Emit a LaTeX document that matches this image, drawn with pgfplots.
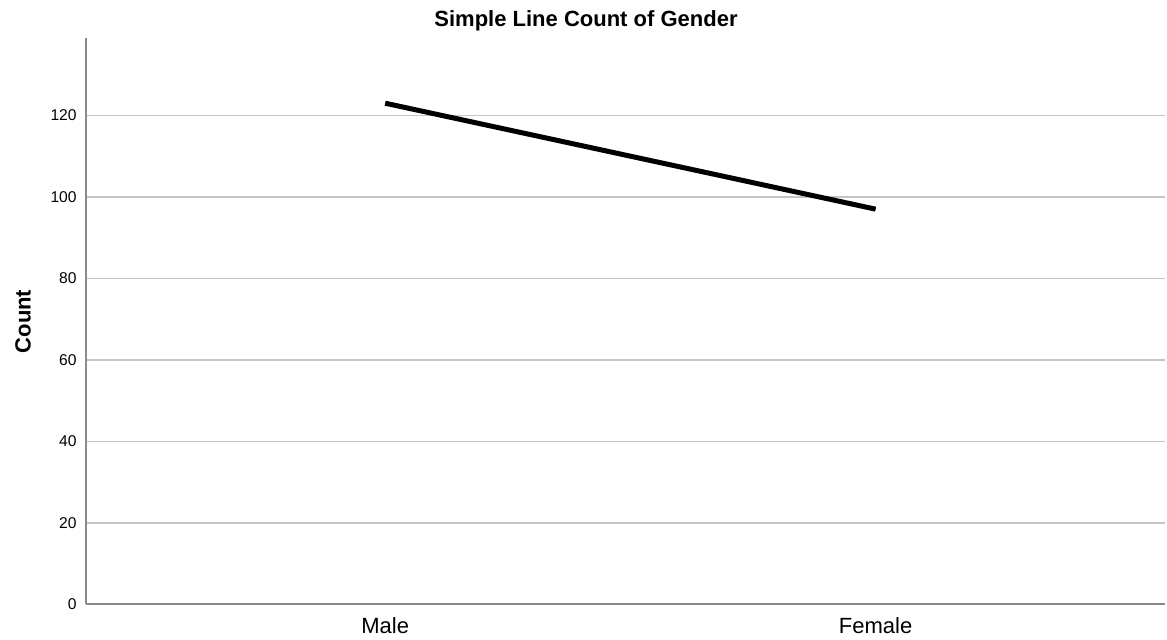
\documentclass[border=0pt]{standalone}
\usepackage{fontspec}
\setmainfont{Liberation Sans}
\usepackage{pgfplots}
\pgfplotsset{compat=1.18}
\definecolor{gridc}{HTML}{C4C4C4}
\definecolor{axc}{HTML}{8A8A8A}
\begin{document}
\begin{tikzpicture}
\useasboundingbox (-43pt,-17.75pt) rectangle (540.5pt,302.25pt);
\begin{axis}[
  at={(0,0)}, anchor=south west,
  scale only axis, width=539.5pt, height=283.25pt,
  xmin=-0.61, xmax=1.59, ymin=0, ymax=139,
  xtick={0,1}, xticklabels={Male,Female},
  ytick={0,20,40,60,80,100,120},
  axis x line*=bottom, axis y line*=left,
  ymajorgrids, grid style={color=gridc, line width=0.8pt},
  major tick length=0pt,
  axis line style={color=axc, line width=1pt},
  /pgf/number format/assume math mode=true,
  yticklabel style={font=\fontsize{7.8}{9}\selectfont, inner sep=0pt, anchor=east, xshift=-4.5pt},
  xticklabel style={font=\fontsize{11}{13}\selectfont, inner sep=0pt, anchor=north, yshift=-6.5pt},
  clip=false,
]
\addplot[black, line width=2.5pt] coordinates {(0,123) (1,97)};
\end{axis}
\node[anchor=base, font=\fontsize{11}{13}\selectfont\bfseries] at (250pt,288.75pt) {Simple Line Count of Gender};
\node[rotate=90, anchor=center, font=\fontsize{11}{13}\selectfont\bfseries] at (-31.5pt,141.5pt) {Count};
\end{tikzpicture}
\end{document}
